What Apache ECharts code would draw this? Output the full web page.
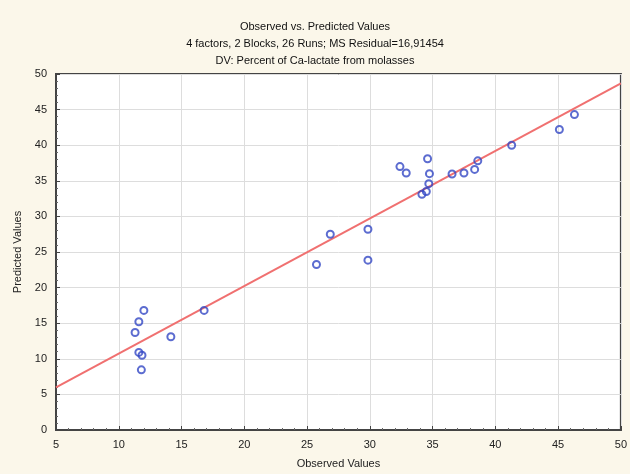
<!DOCTYPE html>
<html>
<head>
<meta charset="utf-8">
<script src="https://cdn.jsdelivr.net/npm/echarts@6/dist/echarts.min.js"></script>
<style>
html,body{margin:0;padding:0;background:#fbf7ea;}
#c{width:630px;height:474px;}
</style>
</head>
<body>
<div id="c"></div>
<script>
var titleLines = ["Observed vs. Predicted Values", "4 factors, 2 Blocks, 26 Runs; MS Residual=16,91454", "DV: Percent of Ca-lactate from molasses"];
var xAxisName = "Observed Values";
var yAxisName = "Predicted Values";
var observed = [12.0, 11.6, 11.3, 16.8, 14.15, 11.6, 11.85, 11.8, 26.85, 29.85, 29.85, 25.75, 32.4, 32.9, 34.6, 34.75, 34.7, 34.5, 34.15, 36.55, 37.5, 38.35, 38.6, 41.3, 45.1, 46.3];
var predicted = [16.8, 15.2, 13.7, 16.8, 13.1, 10.9, 10.5, 8.45, 27.5, 28.2, 23.85, 23.25, 37.0, 36.1, 38.1, 36.0, 34.6, 33.5, 33.1, 35.95, 36.1, 36.6, 37.8, 40.0, 42.2, 44.3];
var fitX = [5, 50];
var fitY = [6.0, 48.7];

var chart = echarts.init(document.getElementById('c'));
var axisCommon = {
  nameTextStyle: {color: '#222', fontSize: 11, fontFamily: 'Liberation Sans'},
  axisLabel: {color: '#222', fontSize: 11, fontFamily: 'Liberation Sans'},
  axisLine: {show: true, lineStyle: {color: '#444', width: 2}},
  axisTick: {show: true, inside: true, length: 4, lineStyle: {color: '#444'}},
  minorTick: {show: true, splitNumber: 5, length: 2, lineStyle: {color: '#666'}},
  splitLine: {show: true, lineStyle: {color: '#ddd', width: 1}}
};
chart.setOption({
  backgroundColor: '#fbf7ea',
  animation: false,
  title: {
    text: titleLines.join('\n'),
    left: 'center', top: 13, padding: [5, 0, 5, 12],
    textStyle: {fontSize: 11, fontWeight: 'normal', color: '#111', fontFamily: 'Liberation Sans', lineHeight: 17}
  },
  grid: {left: 56, right: 7, top: 74, bottom: 43, show: true, backgroundColor: '#fff', borderColor: '#444', borderWidth: 2},
  xAxis: Object.assign({}, axisCommon, {
    type: 'value', min: 5, max: 50, interval: 5,
    name: xAxisName, nameLocation: 'middle', nameGap: 28,
    axisLabel: Object.assign({}, axisCommon.axisLabel, {margin: 9})
  }),
  yAxis: Object.assign({}, axisCommon, {
    type: 'value', min: 0, max: 50, interval: 5,
    name: yAxisName, nameLocation: 'middle', nameGap: 33,
    axisLabel: Object.assign({}, axisCommon.axisLabel, {margin: 9})
  }),
  series: [
    {
      type: 'line',
      data: fitX.map(function (x, i) { return [x, fitY[i]]; }),
      showSymbol: false, symbol: 'none',
      lineStyle: {color: '#f07070', width: 2},
      z: 2
    },
    {
      type: 'scatter',
      data: observed.map(function (x, i) { return [x, predicted[i]]; }),
      symbol: 'circle', symbolSize: 7,
      itemStyle: {color: 'rgba(255,255,255,0)', borderColor: '#3347c4', borderWidth: 2},
      z: 3
    }
  ]
});
</script>
</body>
</html>
